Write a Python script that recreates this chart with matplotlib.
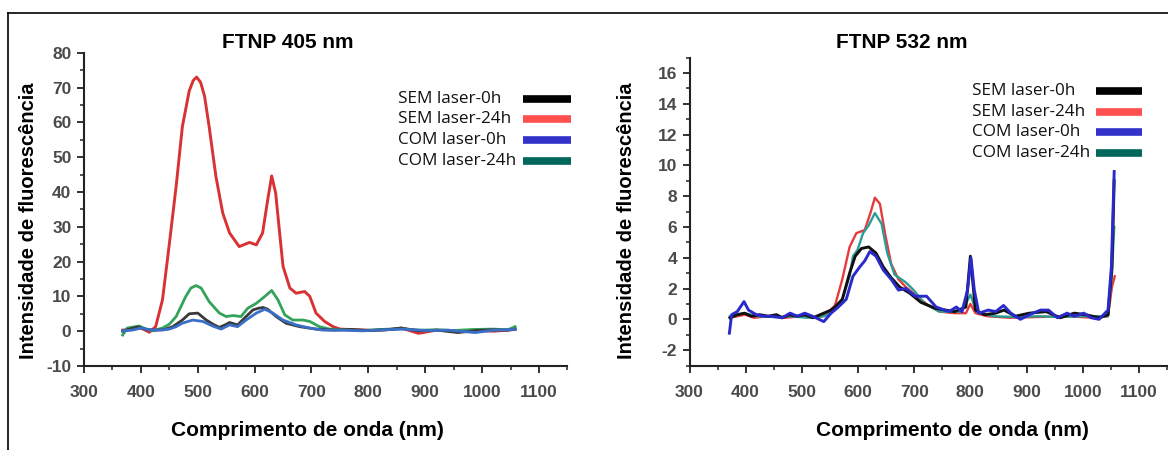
import matplotlib
matplotlib.use("Agg")
import matplotlib.pyplot as plt
from matplotlib.lines import Line2D
from matplotlib.ticker import MultipleLocator

plt.rcParams['font.family'] = ['Liberation Sans', 'DejaVu Sans']
plt.rcParams['axes.unicode_minus'] = False

# ---- FTNP 405 nm (left) ----
l_sem0_wl = [368, 380, 395, 410, 425, 440, 456, 473, 485, 500, 515, 528, 538, 548, 556, 570, 585, 597, 607, 615, 623, 638,
             655, 679, 708, 740, 770, 800, 830, 858, 888, 920, 958, 990, 1020, 1045, 1058]
l_sem0 = [0.0, 0.6, 1.2, 0.5, 0.3, 0.4, 1.3, 3.2, 5.0, 5.2, 3.2, 1.9, 1.1, 1.8, 2.5, 1.8, 4.2, 6.1, 6.6, 6.8, 6.3, 4.2,
          2.3, 1.3, 0.6, 0.3, 0.5, 0.2, 0.4, 0.9, 0.1, 0.3, -0.4, 0.2, 0.4, 0.3, 0.6]

l_sem24_wl = [368, 385, 400, 415, 426, 438, 450, 462, 473, 485, 492, 498, 505, 512, 520, 532, 544, 556, 573, 591, 603,
              614, 623, 630, 637, 644, 650, 662, 673, 688, 697, 708, 723, 738, 750, 780, 810, 840, 858, 888, 920, 950,
              985, 1020, 1045, 1058]
l_sem24 = [0.3, 0.6, 0.9, -0.3, 1.3, 9.0, 25.0, 41.6, 58.8, 69.0, 72.0, 73.0, 71.5, 67.5, 58.8, 44.4, 33.9, 28.2, 24.3,
           25.5, 24.8, 28.2, 37.7, 44.6, 39.7, 28.2, 18.6, 12.4, 10.9, 11.4, 10.0, 5.2, 2.8, 1.3, 0.6, 0.4, 0.2, 0.5,
           0.9, -0.6, 0.3, 0.1, 0.2, 0.0, 0.3, 0.5]

l_com0_wl = [368, 385, 400, 420, 440, 450, 462, 473, 491, 509, 526, 541, 556, 570, 585, 603, 618, 632, 650, 673, 697, 720,
             750, 790, 830, 860, 900, 940, 988, 1020, 1058]
l_com0 = [0.1, 0.3, 0.9, 0.3, 0.4, 0.6, 1.3, 2.3, 3.2, 2.8, 1.5, 0.6, 1.8, 1.3, 3.2, 5.2, 6.3, 5.2, 3.2, 1.8, 0.9, 0.3,
          0.3, 0.1, 0.4, 0.6, 0.2, 0.3, -0.4, 0.3, 0.5]

l_com24_wl = [368, 376, 397, 409, 420, 438, 450, 462, 479, 488, 497, 506, 520, 538, 550, 562, 576, 588, 603, 618, 630, 641,
              653, 667, 685, 697, 714, 732, 760, 790, 820, 858, 890, 920, 950, 985, 1020, 1045, 1058]
l_com24 = [-1.1, 0.9, 1.5, 0.6, 0.1, 0.9, 2.0, 4.2, 10.0, 12.4, 13.1, 12.4, 8.5, 5.2, 4.2, 4.5, 4.2, 6.6, 8.0, 10.0, 11.7,
           9.0, 4.7, 3.2, 3.2, 2.8, 1.3, 0.6, 0.4, 0.2, 0.5, 0.7, 0.3, 0.4, 0.2, 0.5, 0.6, 0.4, 1.3]

# ---- FTNP 532 nm (right) ----
r_sem0_wl = [372, 385, 398, 410, 425, 440, 455, 465, 478, 492, 505, 520, 539, 552, 559, 572, 585, 595, 606, 619, 632,
             645, 659, 674, 692, 712, 739, 772, 792, 800, 809, 825, 845, 860, 880, 905, 935, 960, 985, 1005, 1030,
             1045, 1052, 1056]
r_sem0 = [0.1, 0.3, 0.4, 0.2, 0.3, 0.2, 0.3, 0.1, 0.3, 0.2, 0.3, 0.1, 0.4, 0.6, 0.8, 1.3, 3.0, 4.1, 4.6, 4.7, 4.3,
          3.4, 2.7, 2.1, 1.7, 1.1, 0.7, 0.5, 0.8, 4.1, 0.6, 0.3, 0.4, 0.6, 0.2, 0.4, 0.5, 0.1, 0.4, 0.3, 0.1,
          0.3, 3.4, 9.0]

r_sem24_wl = [372, 385, 399, 415, 440, 470, 500, 530, 545, 559, 572, 585, 597, 612, 622, 630, 639, 649, 659, 672, 685,
              705, 725, 745, 772, 792, 800, 809, 830, 870, 920, 970, 1020, 1045, 1052, 1057]
r_sem24 = [0.1, 0.2, 0.3, 0.1, 0.2, 0.1, 0.2, 0.1, 0.4, 0.9, 2.6, 4.7, 5.6, 5.8, 6.9, 7.9, 7.5, 5.4, 3.6, 2.6, 2.1,
           1.5, 0.9, 0.5, 0.4, 0.4, 1.0, 0.4, 0.2, 0.1, 0.15, 0.2, 0.1, 0.2, 2.1, 2.8]

r_com0_wl = [371, 375, 385, 397, 405, 419, 432, 445, 465, 479, 492, 505, 519, 539, 552, 565, 579, 591, 603, 612, 621,
             632, 645, 659, 672, 685, 702, 722, 739, 762, 775, 785, 795, 801, 807, 815, 832, 845, 859, 872, 889, 905,
             925, 939, 955, 972, 985, 1002, 1015, 1029, 1045, 1051, 1056]
r_com0 = [-0.9, 0.3, 0.5, 1.15, 0.6, 0.3, 0.2, 0.2, 0.1, 0.4, 0.2, 0.4, 0.2, -0.15, 0.4, 0.8, 1.3, 2.8, 3.4, 3.8, 4.4,
          4.1, 3.2, 2.6, 1.9, 2.0, 1.5, 1.5, 0.8, 0.5, 0.8, 0.5, 1.9, 4.0, 1.9, 0.4, 0.6, 0.5, 0.9, 0.4, 0.0, 0.3,
          0.6, 0.6, 0.1, 0.4, 0.2, 0.4, 0.1, 0.0, 0.6, 3.4, 9.6]

r_com24_wl = [372, 385, 398, 420, 450, 480, 510, 540, 559, 572, 585, 591, 599, 609, 619, 630, 642, 652, 665, 685, 699,
              719, 745, 785, 800, 811, 840, 880, 920, 960, 1000, 1045, 1052, 1056]
r_com24 = [0.2, 0.3, 0.4, 0.2, 0.15, 0.2, 0.1, 0.2, 0.6, 1.3, 2.8, 4.1, 4.5, 5.6, 6.1, 6.9, 6.2, 4.3, 2.9, 2.4, 1.9,
           1.0, 0.5, 0.5, 1.6, 0.5, 0.2, 0.15, 0.2, 0.15, 0.2, 0.2, 3.0, 6.0]

labels = ['SEM laser-0h', 'SEM laser-24h', 'COM laser-0h', 'COM laser-24h']
legend_colors = ['#000000', '#ff5050', '#3333cc', '#00675c']
left_colors = ['#3a3a3a', '#d83232', '#3a6fc8', '#33a35a']
right_colors = ['#111111', '#e8393c', '#2a2acc', '#2a9d96']

left_ticks = [-10, 0, 10, 20, 30, 40, 50, 60, 70, 80]
right_ticks = [-2, 0, 2, 4, 6, 8, 10, 12, 14, 16]
x_ticks = [300, 400, 500, 600, 700, 800, 900, 1000, 1100]

W, H = 1168, 450
fig = plt.figure(figsize=(W / 100, H / 100), dpi=100)

ax1 = fig.add_axes([84 / W, 1 - 366 / H, (567.4 - 84) / W, (366 - 52.7) / H])
ax2 = fig.add_axes([689.5 / W, 1 - 365.5 / H, (1167 - 689.5) / W, (365.5 - 57.6) / H])


def style_axis(ax, ymin, ymax, yticks, yminor):
    for s in ['top', 'right']:
        ax.spines[s].set_visible(False)
    for s in ['left', 'bottom']:
        ax.spines[s].set_linewidth(1.5)
        ax.spines[s].set_color('#222222')
    ax.set_xlim(300, 1150)
    ax.set_ylim(ymin, ymax)
    ax.set_xticks(x_ticks)
    ax.set_yticks(yticks)
    ax.xaxis.set_minor_locator(MultipleLocator(50))
    ax.yaxis.set_minor_locator(MultipleLocator(yminor))
    ax.tick_params(which='major', direction='out', length=5, width=1.3, color='#222222')
    ax.tick_params(which='minor', direction='out', length=3, width=1.1, color='#222222')
    ax.tick_params(axis='x', which='major', pad=9)
    ax.tick_params(axis='y', which='major', pad=4)
    for lab in ax.get_xticklabels() + ax.get_yticklabels():
        lab.set_fontsize(12.5)
        lab.set_fontweight('bold')
        lab.set_color('#4a4a4a')


def draw_legend(ax, x_text, x_bar0, x_bar1, ys):
    for lab, col, y in zip(labels, legend_colors, ys):
        ax.text(x_text, y, lab, transform=ax.transAxes, va='center', ha='left',
                fontsize=12.3, family=['Open Sans', 'DejaVu Sans'], color='#111111')
        ax.add_line(Line2D([x_bar0, x_bar1], [y, y], transform=ax.transAxes, color=col,
                           lw=5.5, solid_capstyle='butt', clip_on=False))


# left panel
ax1.plot(l_sem24_wl, l_sem24, color=left_colors[1], lw=2.1)
ax1.plot(l_com24_wl, l_com24, color=left_colors[3], lw=2.0)
ax1.plot(l_sem0_wl, l_sem0, color=left_colors[0], lw=2.0)
ax1.plot(l_com0_wl, l_com0, color=left_colors[2], lw=2.0)
style_axis(ax1, -10, 80, left_ticks, 5)
draw_legend(ax1, 0.650, 0.908, 1.007, [0.852, 0.787, 0.721, 0.654])

# right panel
ax2.plot(r_sem24_wl, r_sem24, color=right_colors[1], lw=1.7)
ax2.plot(r_com24_wl, r_com24, color=right_colors[3], lw=1.7)
ax2.plot(r_sem0_wl, r_sem0, color=right_colors[0], lw=2.1)
ax2.plot(r_com0_wl, r_com0, color=right_colors[2], lw=2.1)
style_axis(ax2, -3, 17, right_ticks, 1)
draw_legend(ax2, 0.592, 0.851, 0.948, [0.8925, 0.824, 0.759, 0.691])

# titles and axis labels
fig.text(288 / W, 1 - 42 / H, 'FTNP 405 nm', ha='center', va='center', fontsize=15, fontweight='bold')
fig.text(901.6 / W, 1 - 42 / H, 'FTNP 532 nm', ha='center', va='center', fontsize=15, fontweight='bold')
fig.text(307.6 / W, 1 - 430 / H, 'Comprimento de onda (nm)', ha='center', va='center', fontsize=15, fontweight='bold')
fig.text(952 / W, 1 - 430 / H, 'Comprimento de onda (nm)', ha='center', va='center', fontsize=15, fontweight='bold')
fig.text(29 / W, 1 - 221 / H, 'Intensidade de fluorescência', ha='center', va='center', rotation=90,
         fontsize=14.5, fontweight='bold')
fig.text(626 / W, 1 - 221 / H, 'Intensidade de fluorescência', ha='center', va='center', rotation=90,
         fontsize=14.5, fontweight='bold')

# screenshot frame
fig.add_artist(Line2D([7.5 / W, 1], [1 - 13 / H, 1 - 13 / H], transform=fig.transFigure, color='black', lw=1.2))
fig.add_artist(Line2D([7.5 / W, 7.5 / W], [0, 1 - 13 / H], transform=fig.transFigure, color='black', lw=1.2))

fig.savefig('out.png', dpi=100)
